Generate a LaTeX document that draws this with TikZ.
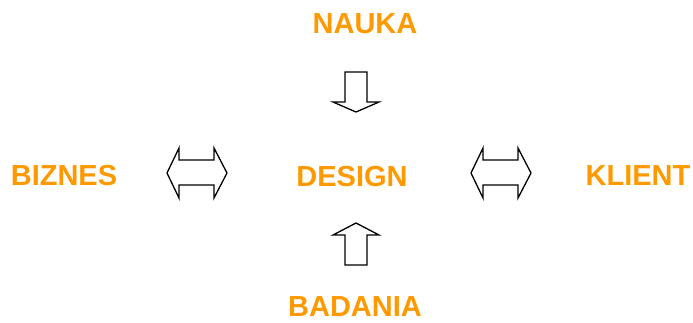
\documentclass[tikz,border=0pt]{standalone}
\usepackage{fontspec}
\setmainfont{Liberation Sans}
\definecolor{labelorange}{RGB}{255,153,0}
\begin{document}
\begin{tikzpicture}[x=1pt,y=-1pt,
    word/.style={text=labelorange,font=\bfseries\fontsize{29}{29}\selectfont,inner sep=0pt},
    fatarrow/.style={draw=black,fill=white,line width=1.3pt,line join=miter}]
    \useasboundingbox (0,0) rectangle (693,322);
    \node[word] (nauka) at (365,24) {NAUKA};
    \node[word] (biznes) at (64,176) {BIZNES};
    \node[word] (design) at (352,177) {DESIGN};
    \node[word] (klient) at (638,176) {KLIENT};
    \node[word] (badania) at (355,307) {BADANIA};
    % single arrows
    \draw[fatarrow] (345,72) -- (367,72) -- (367,102) -- (379,102) -- (356,112) -- (333,102) -- (345,102) -- cycle;
    \draw[fatarrow] (345,265) -- (367,265) -- (367,235) -- (379,235) -- (356,223) -- (333,235) -- (345,235) -- cycle;
    % double arrows
    \draw[fatarrow] (167,173) -- (179,148) -- (179,160) -- (214,160) -- (214,148) -- (227,173)
        -- (214,198) -- (214,185) -- (179,185) -- (179,198) -- cycle;
    \draw[fatarrow] (471,173) -- (483,148) -- (483,160) -- (518,160) -- (518,148) -- (531,173)
        -- (518,198) -- (518,185) -- (483,185) -- (483,198) -- cycle;
\end{tikzpicture}
\end{document}
